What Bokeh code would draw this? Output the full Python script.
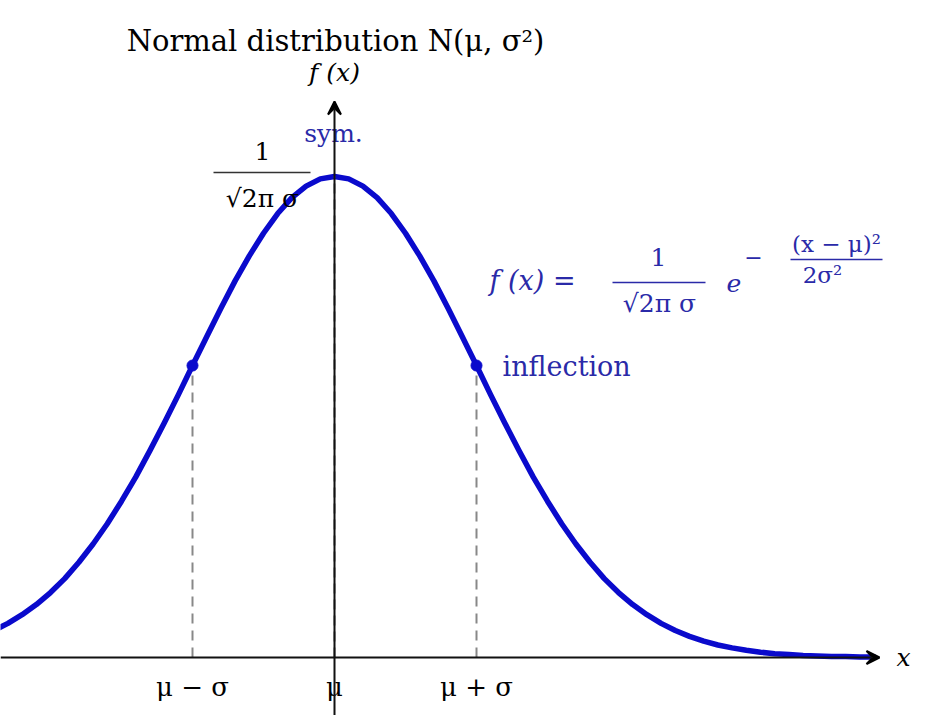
from bokeh.plotting import figure
from bokeh.models import Arrow, VeeHead, Range1d
from bokeh.core.properties import value
from bokeh.embed import file_html
from bokeh.resources import INLINE

# ---- data (x in units of sigma from mu, height relative to the peak 1/(sqrt(2pi) sigma)) ----
curve_x = [-2.4, -2.3, -2.2, -2.1, -2.0, -1.9, -1.8, -1.7, -1.6, -1.5, -1.4, -1.3, -1.2, -1.1,
           -1.0, -0.9, -0.8, -0.7, -0.6, -0.5, -0.4, -0.3, -0.2, -0.1, 0.0,
           0.1, 0.2, 0.3, 0.4, 0.5, 0.6, 0.7, 0.8, 0.9, 1.0, 1.1, 1.2, 1.3, 1.4, 1.5,
           1.6, 1.7, 1.8, 1.9, 2.0, 2.1, 2.2, 2.3, 2.4, 2.5, 2.6, 2.7, 2.8, 2.9, 3.0,
           3.1, 3.2, 3.3, 3.4, 3.5, 3.6, 3.7, 3.8]
curve_y = [0.056, 0.071, 0.089, 0.110, 0.135, 0.164, 0.198, 0.236, 0.278, 0.325, 0.375, 0.430,
           0.487, 0.546, 0.607, 0.667, 0.726, 0.783, 0.835, 0.882, 0.923, 0.956, 0.980, 0.995, 1.000,
           0.995, 0.980, 0.956, 0.923, 0.882, 0.835, 0.783, 0.726, 0.667, 0.607, 0.546, 0.487,
           0.430, 0.375, 0.325, 0.278, 0.236, 0.198, 0.164, 0.135, 0.110, 0.089, 0.071, 0.056,
           0.044, 0.034, 0.026, 0.020, 0.015, 0.011, 0.008, 0.006, 0.004, 0.003, 0.002, 0.002,
           0.001, 0.001]
inflect_x = [-1.0, 1.0]
inflect_y = [0.607, 0.607]
tick_pos = [-1.0, 0.0, 1.0]
tick_labels = ["μ − σ", "μ", "μ + σ"]

# ---- geometry ----
W, H = 940, 715
MU_PX, AXIS_PX = 334, 657      # pixels of mu / x axis
SX, SY = 142.0, 481.0          # pixels per sigma / per unit height

def dx(px):
    return (px - MU_PX) / SX

def dy(py):
    return (AXIS_PX - py) / SY

p = figure(width=W, height=H, output_backend="svg", toolbar_location=None,
           x_range=Range1d(dx(0), dx(W)), y_range=Range1d(dy(H), dy(0)),
           min_border=0, outline_line_color=None)
p.axis.visible = False
p.grid.visible = False
p.background_fill_color = "white"
p.border_fill_color = "white"

BLUE = "#0a0acc"
TBLUE = "#2a2aa8"
SERIF = value("DejaVu Serif")

# x axis
p.add_layout(Arrow(end=VeeHead(size=13, line_color="black", line_width=2, fill_color="black"),
                   x_start=dx(0), y_start=0, x_end=dx(879), y_end=0,
                   line_color="#111111", line_width=2))

# dashed inflection guides
for xi, yi in zip(inflect_x, inflect_y):
    p.line([xi, xi], [0, yi], line_color="#888888", line_width=2, line_dash="10 7")

# curve
p.line(curve_x, curve_y, line_color=BLUE, line_width=5.5, line_join="round", line_cap="round")
p.scatter(inflect_x, inflect_y, size=11, fill_color=BLUE, line_color=BLUE)

# y axis
p.add_layout(Arrow(end=VeeHead(size=13, line_color="black", line_width=2, fill_color="black"),
                   x_start=0, y_start=dy(H), x_end=0, y_end=dy(101),
                   line_color="#111111", line_width=2))
p.line([0, 0], [0, 1.0], line_color="#777777", line_width=2.5, line_dash="10 6", line_alpha=0.6)

def txt(x, y, s, size="25px", color="black", align="center", style="normal"):
    p.text(x=[x], y=[y], text=[s], text_font=SERIF, text_font_size=size,
           text_color=color, text_align=align, text_baseline="middle", text_font_style=style)

# title and y label
txt(dx(335), dy(40), "Normal distribution N(μ, σ²)", size="29px")
txt(dx(334), dy(72), "f (x)", size="25px", style="italic")

# sym.
txt(dx(333), dy(133), "sym.", size="25px", color=TBLUE)

# peak value fraction
txt(dx(262), dy(150), "1", size="25px")
p.segment(x0=[dx(213)], y0=[dy(172)], x1=[dx(310)], y1=[dy(172)], line_color="#333333", line_width=1.5)
txt(dx(262), dy(198), "√2π σ", size="25px")

# formula
txt(dx(489), dy(280), "f (x)  =", size="27px", color=TBLUE, align="left", style="italic")
txt(dx(658), dy(256), "1", size="25px", color=TBLUE)
p.segment(x0=[dx(612)], y0=[dy(282)], x1=[dx(705)], y1=[dy(282)], line_color=TBLUE, line_width=1.5)
txt(dx(659), dy(303), "√2π σ", size="25px", color=TBLUE)
txt(dx(726), dy(282), "e", size="25px", color=TBLUE, align="left", style="italic")
txt(dx(753), dy(256), "−", size="22px", color=TBLUE)
txt(dx(836), dy(243), "(x − μ)²", size="23px", color=TBLUE)
p.segment(x0=[dx(790)], y0=[dy(259)], x1=[dx(882)], y1=[dy(259)], line_color=TBLUE, line_width=1.5)
txt(dx(822), dy(274), "2σ²", size="23px", color=TBLUE)

# inflection label
txt(dx(502), dy(366), "inflection", size="27px", color=TBLUE, align="left")

# tick labels
p.text(x=tick_pos, y=[dy(686)] * 3, text=tick_labels, text_font=SERIF, text_font_size="26px",
       text_color="black", text_align="center", text_baseline="middle")

# x label
txt(dx(903), dy(657), "x", size="25px", style="italic")

open("out.html", "w").write(file_html(p, INLINE))
